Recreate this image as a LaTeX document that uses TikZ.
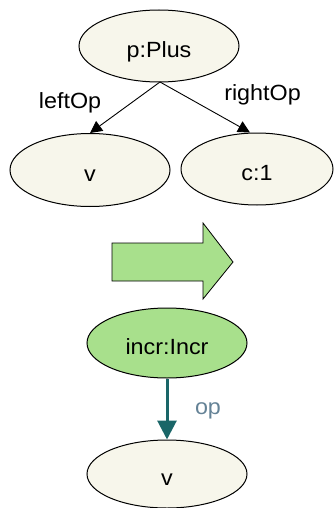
\documentclass[tikz,border=0pt]{standalone}
\usepackage{fontspec}
\setmainfont{Liberation Sans}[FakeStretch=1.06]
\usetikzlibrary{shapes.geometric,arrows.meta}
\definecolor{beige}{RGB}{247,246,235}
\definecolor{lgreen}{RGB}{168,224,140}
\definecolor{teal2}{RGB}{26,102,104}
\definecolor{opgray}{RGB}{100,130,150}
\tikzset{
  obj/.style={ellipse, draw=black, line width=1pt, fill=beige, inner sep=0pt,
    text height=23pt, text depth=0pt,
    font=\fontsize{22}{25}\selectfont},
  gobj/.style={obj, fill=lgreen},
  lbl/.style={font=\fontsize{22}{25}\selectfont, inner sep=0pt, anchor=base},
  link/.style={draw=black, line width=0.9pt, -{Triangle[width=12pt,length=12pt]}},
  oplink/.style={draw=teal2, line width=3pt, -{Triangle[width=19pt,length=19pt]}},
}
\begin{document}
\begin{tikzpicture}[x=1pt,y=-1pt]
\useasboundingbox (0,0) rectangle (333,508);
\node[obj, minimum width=160pt, minimum height=72pt] (p) at (159,46) {p:Plus};
\node[obj, minimum width=160pt, minimum height=73pt] (v1) at (90,170) {v};
\node[obj, minimum width=152pt, minimum height=72pt] (c) at (257,169) {c:1};
\coordinate (pb) at (160,82);
\draw[link] (pb) -- (v1.north);
\draw[link] (pb) -- ([xshift=-7pt]c.north);
\node[lbl] (lo) at (70,109) {leftOp};
\node[lbl] (ro) at (262.5,101) {rightOp};
\draw[fill=lgreen, draw=black, line width=0.8pt]
  (112,243) -- (203,243) -- (203,223) -- (233,262) -- (203,299) -- (203,281) -- (112,281) -- cycle;
\node[gobj, minimum width=160pt, minimum height=70pt] (incr) at (167,343) {incr:Incr};
\node[obj, minimum width=160pt, minimum height=68pt] (v2) at (167,474) {v};
\draw[oplink] (incr.south) -- (v2.north);
\node[lbl, text=opgray] (op) at (208,414) {op};
\end{tikzpicture}
\end{document}
